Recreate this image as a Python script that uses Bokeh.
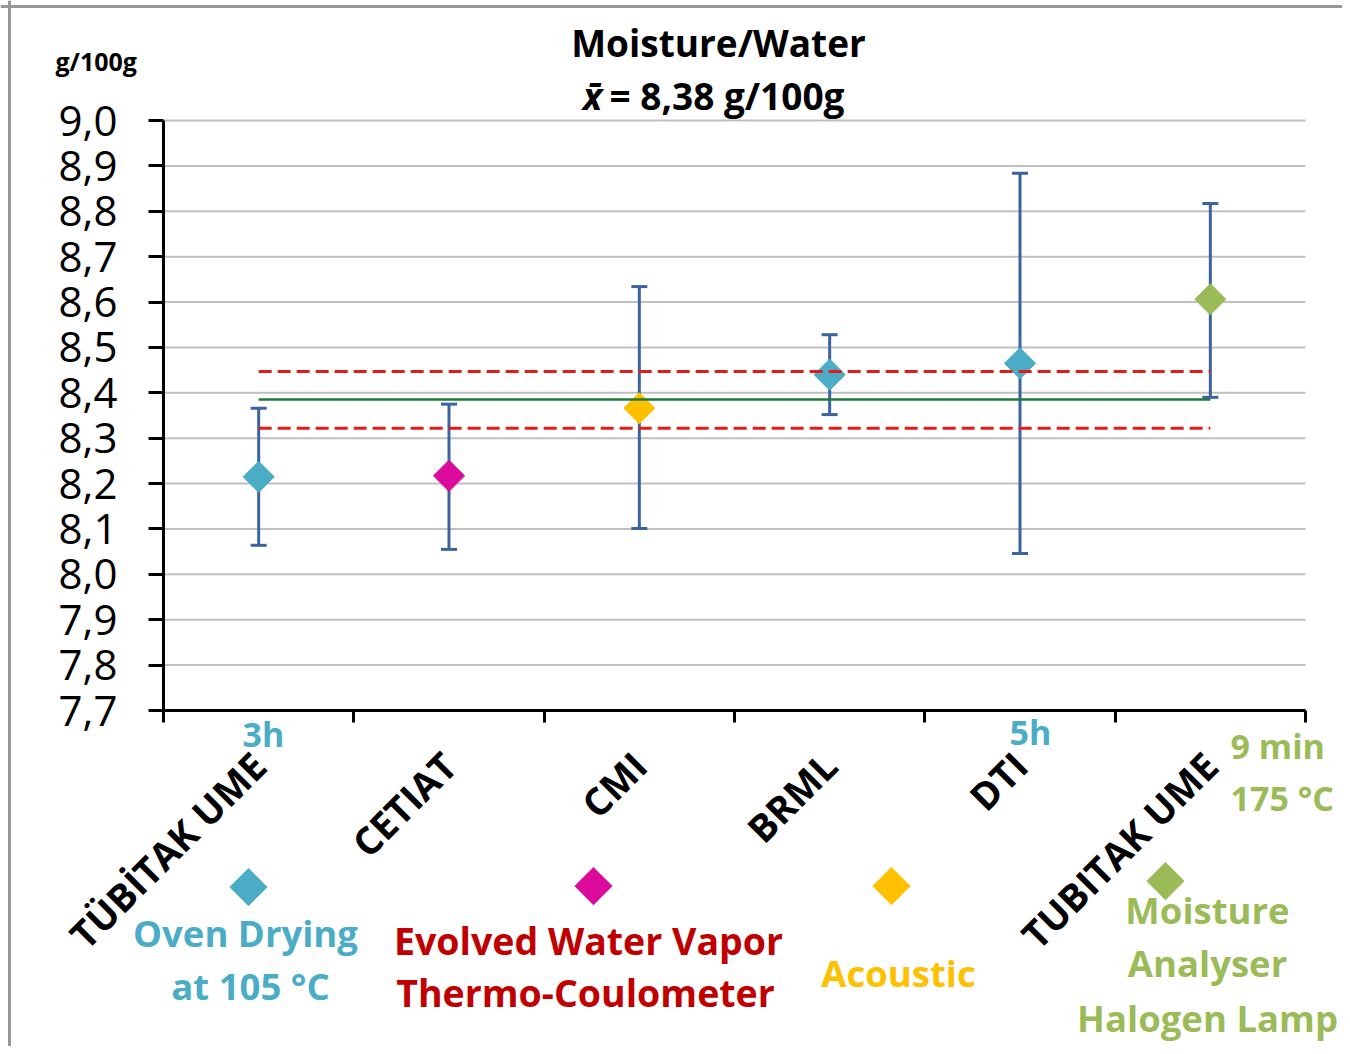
import math
from bokeh.plotting import figure
from bokeh.models import (Range1d, FixedTicker, LinearAxis, CustomJSTickFormatter,
                          Whisker, TeeHead, ColumnDataSource, Label, Span)
from bokeh.embed import file_html
from bokeh.resources import INLINE

# ---------------- data ----------------
participants = ["TÜBİTAK UME", "CETIAT", "CMI", "BRML", "DTI", "TUBITAK UME"]
values = [8.215, 8.217, 8.366, 8.440, 8.465, 8.606]
lower = [8.064, 8.055, 8.101, 8.352, 8.046, 8.390]
upper = [8.366, 8.375, 8.634, 8.528, 8.884, 8.817]
methods = ["oven", "evolved", "acoustic", "oven", "oven", "halogen"]
mean_value = 8.385
mean_low = 8.322
mean_high = 8.447
y_ticks = [7.7, 7.8, 7.9, 8.0, 8.1, 8.2, 8.3, 8.4, 8.5, 8.6, 8.7, 8.8, 8.9, 9.0]
Y_MIN, Y_MAX = 7.7, 9.0

# ---------------- styles / layout ----------------
AQUA = "#4bacc6"
MAGENTA = "#dc0a9a"
AMBER = "#ffc000"
GREEN = "#9bbb59"
DARKRED = "#c00000"
ERR = "#3b63a0"
marker_color = {"oven": AQUA, "evolved": MAGENTA, "acoustic": AMBER, "halogen": GREEN}
FONT = "Open Sans"

W, H = 1342, 1046                 # canvas
PL, PR, PT, PB = 163, 1305, 120, 710   # plot area in canvas pixels

n = len(participants)
centers = [i + 0.5 for i in range(n)]
boundaries = list(range(n + 1))

kx = (PR - PL) / n
ky = (PB - PT) / (Y_MAX - Y_MIN)
x_range = Range1d(-PL / kx, n + (W - PR) / kx)
y_range = Range1d(Y_MIN - (H - PB) / ky, Y_MAX + PT / ky)

src = ColumnDataSource(dict(x=centers, y=values, lower=lower, upper=upper,
                            color=[marker_color[m] for m in methods]))

p = figure(width=W, height=H, x_range=x_range, y_range=y_range,
           x_axis_location=None, y_axis_location=None,
           output_backend="svg", toolbar_location=None, min_border=0)
p.outline_line_color = None
p.background_fill_color = "white"
p.border_fill_color = "white"
p.xgrid.visible = False
p.ygrid.visible = False

# y axis
yax = LinearAxis(fixed_location=0, bounds=(Y_MIN, Y_MAX),
                 ticker=FixedTicker(ticks=y_ticks),
                 formatter=CustomJSTickFormatter(code="return tick.toFixed(1).replace('.', ',');"),
                 major_label_text_font=FONT, major_label_text_font_size="42px",
                 major_label_text_color="black", major_label_standoff=31,
                 major_tick_out=15, major_tick_in=0, minor_tick_line_color=None,
                 axis_line_width=3, major_tick_line_width=3)
p.add_layout(yax, "left")

# x axis: boundary ticks (minor) + participant labels (major)
xax = LinearAxis(fixed_location=Y_MIN, bounds=(0, n),
                 ticker=FixedTicker(ticks=centers, minor_ticks=boundaries),
                 formatter=CustomJSTickFormatter(args=dict(labels=participants),
                                                 code="return labels[Math.round(tick - 0.5)];"),
                 major_label_orientation=math.pi / 4,
                 major_tick_line_color=None, major_tick_out=0, major_tick_in=0,
                 minor_tick_out=12, minor_tick_in=0, minor_tick_line_width=3,
                 minor_tick_line_color="black",
                 axis_line_width=3, axis_line_color="black",
                 major_label_text_font=FONT, major_label_text_font_size="38px",
                 major_label_text_font_style="bold", major_label_text_color="black",
                 major_label_standoff=36)
p.add_layout(xax, "below")

# horizontal gridlines at the y ticks
grid = p.segment(x0=0, x1=n, y0=y_ticks, y1=y_ticks, line_color="#c0c0c0", line_width=2)
grid.level = "underlay"

# error bars
wh = Whisker(base="x", lower="lower", upper="upper", source=src,
             line_color=ERR, line_width=3,
             upper_head=TeeHead(size=16, line_color=ERR, line_width=3),
             lower_head=TeeHead(size=16, line_color=ERR, line_width=3))
p.add_layout(wh)

# points
p.scatter("x", "y", source=src, marker="square", angle=math.pi / 4, size=22,
          fill_color="color", line_color="color")

# mean and limits
xs = [centers[0], centers[-1]]
p.line(xs, [mean_value, mean_value], line_color="#217a38", line_width=2.5)
p.line(xs, [mean_high, mean_high], line_color="#e31b1b", line_width=3, line_dash="13 6")
p.line(xs, [mean_low, mean_low], line_color="#e31b1b", line_width=3, line_dash="13 6")


# ---------------- annotations ----------------
def at(px, py):
    # canvas pixel position -> data coordinates (for text placement only)
    return ((px - PL) / kx, Y_MAX - (py - PT) / ky)


def txt(s, px, py, size, color="black", style="bold", align="center", font=FONT):
    x, y = at(px, py)
    p.add_layout(Label(x=x, y=y, text=s, text_font=font, text_font_size=size,
                       text_font_style=style, text_color=color, text_align=align,
                       text_baseline="middle"))


# outer frame (left and top edges)
p.add_layout(Span(location=at(9, 0)[0], dimension="height", line_color="#979797", line_width=3))
p.add_layout(Span(location=at(0, 6)[1], dimension="width", line_color="#979797", line_width=3))

txt("Moisture/Water", 718, 42, "37px")
txt("x̄", 592, 95, "37px", style="bold italic")
txt("= 8,38 g/100g", 609, 95, "37px", align="left")
txt("g/100g", 55, 60, "25px", align="left")

txt("3h", 263, 733, "34px", AQUA)
txt("5h", 1030, 731, "34px", AQUA)
txt("9 min", 1230, 745, "34px", GREEN, align="left")
txt("175 °C", 1230, 797, "34px", GREEN, align="left")

# legend symbols and method names
txt("◆", 248, 882, "50px", AQUA, style="normal", font="DejaVu Sans")
txt("◆", 593, 881, "50px", MAGENTA, style="normal", font="DejaVu Sans")
txt("◆", 891, 881, "50px", AMBER, style="normal", font="DejaVu Sans")
txt("◆", 1165, 876, "50px", GREEN, style="normal", font="DejaVu Sans")

txt("Oven Drying", 245, 932, "36.5px", AQUA)
txt("at 105 °C", 250, 985, "36.5px", AQUA)
txt("Evolved Water Vapor", 588, 940, "37.5px", DARKRED)
txt("Thermo-Coulometer", 585, 992, "37.5px", DARKRED)
txt("Acoustic", 898, 972, "36.5px", AMBER)
txt("Moisture", 1207, 909, "36.5px", GREEN)
txt("Analyser", 1207, 962, "36.5px", GREEN)
txt("Halogen Lamp", 1207, 1017, "36.5px", GREEN)

open("out.html", "w").write(file_html(p, INLINE))
